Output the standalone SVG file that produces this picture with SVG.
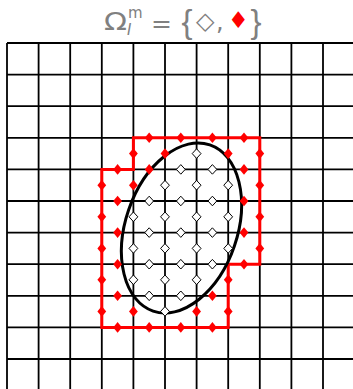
<svg xmlns="http://www.w3.org/2000/svg" xmlns:xlink="http://www.w3.org/1999/xlink" width="353" height="389" viewBox="0 0 353 389">
<style>
.grid line{stroke:#000;stroke-width:1.8}
.bnd{fill:none;stroke:#ff0000;stroke-width:3}
.ell{fill:none;stroke:#000;stroke-width:3}
.w{fill:#fff;stroke:#000;stroke-width:1}
.r{fill:#ff0000;stroke:none}
.t{font-family:"DejaVu Sans",sans-serif;fill:#808080}
.br{font-family:"Liberation Sans",sans-serif}
</style>
<defs>
<path id="dw" d="M0,-4.8 L4.4,0 L0,4.8 L-4.4,0 Z"/>
<path id="dr" d="M0,-5.3 L4.4,0 L0,5.3 L-4.4,0 Z"/>
</defs>
<rect width="353" height="389" fill="#fff"/>
<g id="title">
<text class="t" font-size="24"><tspan x="104" y="30" textLength="23" lengthAdjust="spacingAndGlyphs">Ω</tspan><tspan x="128" y="18" font-size="15">m</tspan><tspan x="127" y="35" font-size="15" font-style="italic">I</tspan><tspan x="151" y="32" font-size="25">=</tspan><tspan class="br" x="181.5" y="33" font-size="33">{</tspan><tspan x="196" y="29">◇</tspan><tspan x="216" y="30">,</tspan><tspan x="228" y="28" font-size="23" fill="#ff0000">♦</tspan><tspan class="br" x="250.5" y="33" font-size="33">}</tspan></text>
</g>
<g id="grid" class="grid">
<line x1="7" y1="43" x2="7" y2="389"/>
<line x1="38.6" y1="43" x2="38.6" y2="389"/>
<line x1="70.2" y1="43" x2="70.2" y2="389"/>
<line x1="101.8" y1="43" x2="101.8" y2="389"/>
<line x1="133.4" y1="43" x2="133.4" y2="389"/>
<line x1="165" y1="43" x2="165" y2="389"/>
<line x1="196.6" y1="43" x2="196.6" y2="389"/>
<line x1="228.2" y1="43" x2="228.2" y2="389"/>
<line x1="259.8" y1="43" x2="259.8" y2="389"/>
<line x1="291.4" y1="43" x2="291.4" y2="389"/>
<line x1="323" y1="43" x2="323" y2="389"/>
<line x1="7" y1="43" x2="353" y2="43"/>
<line x1="7" y1="74.6" x2="353" y2="74.6"/>
<line x1="7" y1="106.2" x2="353" y2="106.2"/>
<line x1="7" y1="137.8" x2="353" y2="137.8"/>
<line x1="7" y1="169.4" x2="353" y2="169.4"/>
<line x1="7" y1="201" x2="353" y2="201"/>
<line x1="7" y1="232.6" x2="353" y2="232.6"/>
<line x1="7" y1="264.2" x2="353" y2="264.2"/>
<line x1="7" y1="295.8" x2="353" y2="295.8"/>
<line x1="7" y1="327.4" x2="353" y2="327.4"/>
<line x1="7" y1="359" x2="353" y2="359"/>
</g>
<g id="boundary">
<path class="bnd" d="M133.4,137.8 H259.8 V264.2 H228.2 V327.4 H101.8 V169.4 H133.4 Z"/>
</g>
<g id="domain">
<ellipse class="ell" cx="181.5" cy="228" rx="55.9" ry="87.8" transform="rotate(18.85 181.5 228)"/>
</g>
<g id="red-dofs" class="r">
<use xlink:href="#dr" x="149.2" y="137.8"/><use xlink:href="#dr" x="180.8" y="137.8"/><use xlink:href="#dr" x="212.4" y="137.8"/><use xlink:href="#dr" x="244" y="137.8"/>
<use xlink:href="#dr" x="133.4" y="153.6"/><use xlink:href="#dr" x="165" y="153.6"/><use xlink:href="#dr" x="228.2" y="153.6"/><use xlink:href="#dr" x="259.8" y="153.6"/>
<use xlink:href="#dr" x="117.6" y="169.4"/><use xlink:href="#dr" x="149.2" y="169.4"/><use xlink:href="#dr" x="244" y="169.4"/>
<use xlink:href="#dr" x="101.8" y="185.2"/><use xlink:href="#dr" x="133.4" y="185.2"/><use xlink:href="#dr" x="259.8" y="185.2"/>
<use xlink:href="#dr" x="117.6" y="201"/><use xlink:href="#dr" x="244" y="201"/>
<use xlink:href="#dr" x="101.8" y="216.8"/><use xlink:href="#dr" x="259.8" y="216.8"/>
<use xlink:href="#dr" x="117.6" y="232.6"/><use xlink:href="#dr" x="244" y="232.6"/>
<use xlink:href="#dr" x="101.8" y="248.4"/><use xlink:href="#dr" x="259.8" y="248.4"/>
<use xlink:href="#dr" x="117.6" y="264.2"/><use xlink:href="#dr" x="244" y="264.2"/>
<use xlink:href="#dr" x="101.8" y="279.8"/><use xlink:href="#dr" x="228.2" y="279.8"/>
<use xlink:href="#dr" x="117.6" y="295.8"/><use xlink:href="#dr" x="212.4" y="295.8"/>
<use xlink:href="#dr" x="101.8" y="311.4"/><use xlink:href="#dr" x="133.4" y="311.4"/><use xlink:href="#dr" x="196.6" y="311.4"/><use xlink:href="#dr" x="228.2" y="311.4"/>
<use xlink:href="#dr" x="117.6" y="327.4"/><use xlink:href="#dr" x="149.2" y="327.4"/><use xlink:href="#dr" x="180.8" y="327.4"/><use xlink:href="#dr" x="212.4" y="327.4"/>
</g>
<g id="white-dofs" class="w">
<use xlink:href="#dw" x="196.6" y="153.6"/>
<use xlink:href="#dw" x="180.8" y="169.4"/><use xlink:href="#dw" x="212.4" y="169.4"/>
<use xlink:href="#dw" x="165" y="185.2"/><use xlink:href="#dw" x="196.6" y="185.2"/><use xlink:href="#dw" x="228.2" y="185.2"/>
<use xlink:href="#dw" x="149.2" y="201"/><use xlink:href="#dw" x="180.8" y="201"/><use xlink:href="#dw" x="212.4" y="201"/>
<use xlink:href="#dw" x="133.4" y="216.8"/><use xlink:href="#dw" x="165" y="216.8"/><use xlink:href="#dw" x="196.6" y="216.8"/><use xlink:href="#dw" x="228.2" y="216.8"/>
<use xlink:href="#dw" x="149.2" y="232.6"/><use xlink:href="#dw" x="180.8" y="232.6"/><use xlink:href="#dw" x="212.4" y="232.6"/>
<use xlink:href="#dw" x="133.4" y="248.4"/><use xlink:href="#dw" x="165" y="248.4"/><use xlink:href="#dw" x="196.6" y="248.4"/><use xlink:href="#dw" x="228.2" y="248.4"/>
<use xlink:href="#dw" x="149.2" y="264.2"/><use xlink:href="#dw" x="180.8" y="264.2"/><use xlink:href="#dw" x="212.4" y="264.2"/>
<use xlink:href="#dw" x="133.4" y="279.8"/><use xlink:href="#dw" x="165" y="279.8"/><use xlink:href="#dw" x="196.6" y="279.8"/>
<use xlink:href="#dw" x="149.2" y="295.8"/><use xlink:href="#dw" x="180.8" y="295.8"/>
<use xlink:href="#dw" x="165" y="311.4"/>
</g>
</svg>
